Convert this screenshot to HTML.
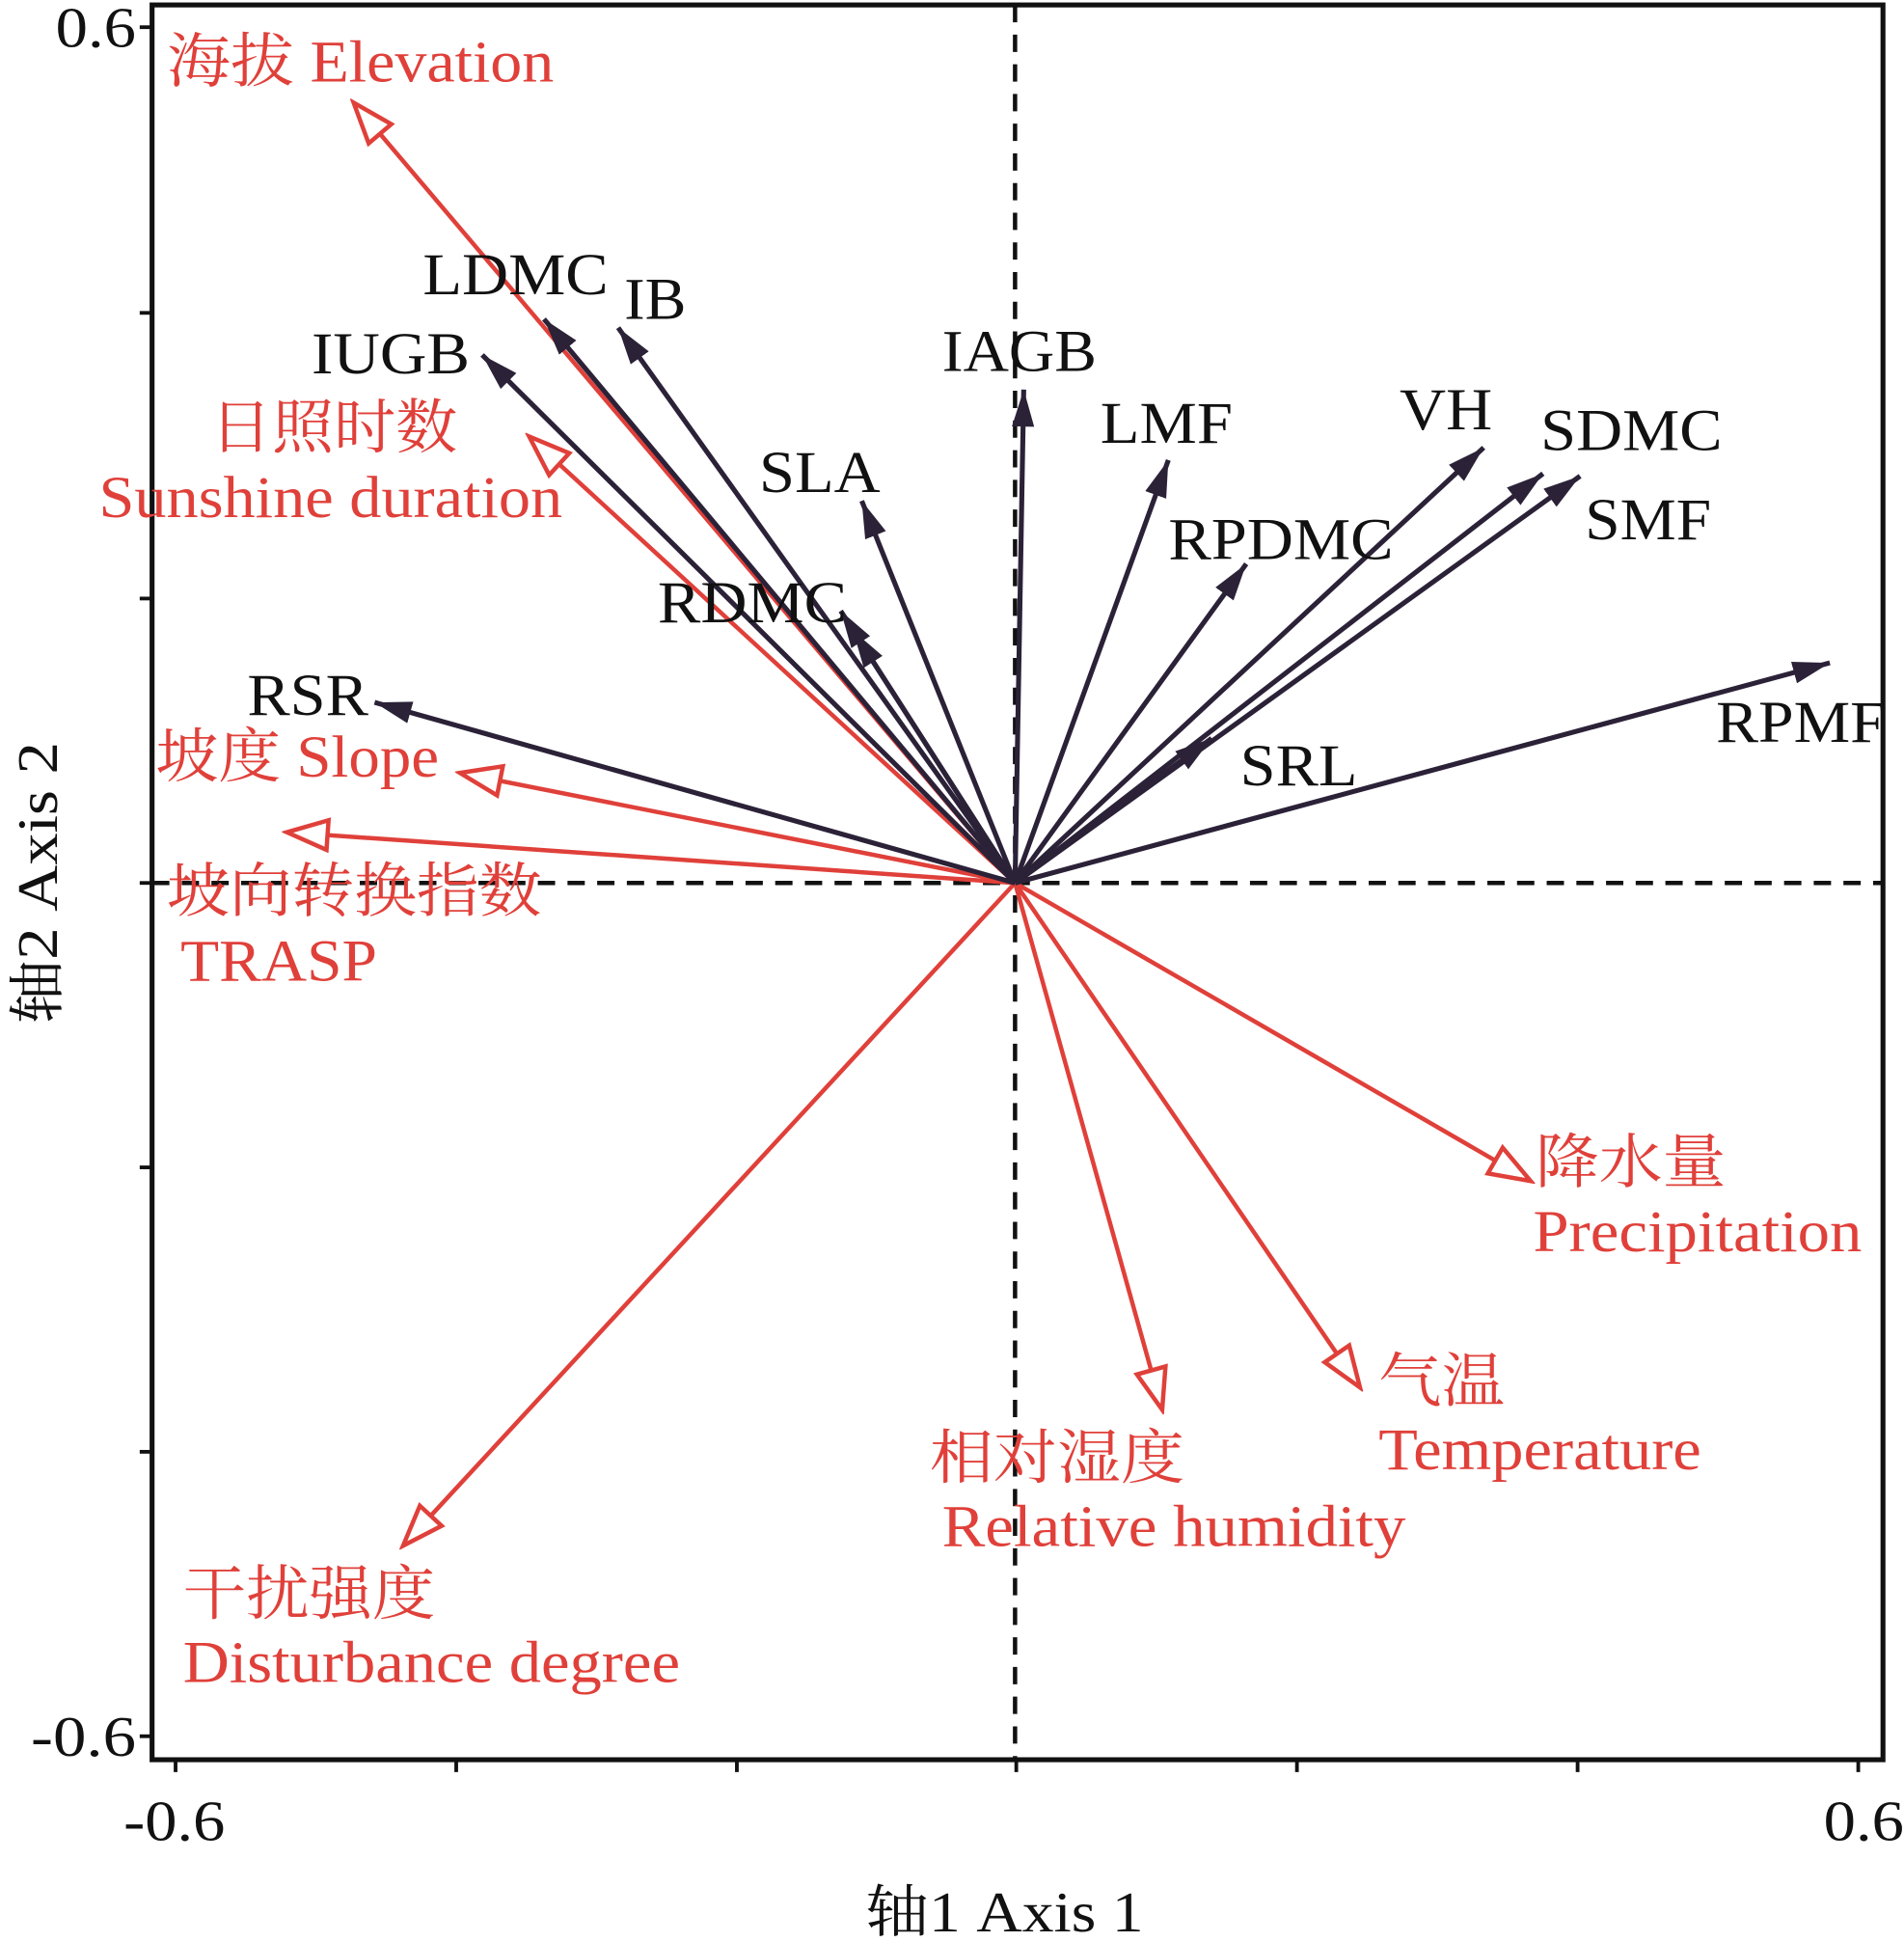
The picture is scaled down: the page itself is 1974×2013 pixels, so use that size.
<!DOCTYPE html>
<html><head><meta charset="utf-8"><style>
html,body{margin:0;padding:0;background:#fff;}
svg{display:block;}
text{font-family:"Liberation Serif","Noto Serif CJK SC","Noto Sans CJK SC",serif;}
</style></head><body>
<svg width="1974" height="2013" viewBox="0 0 1540 1570.4" preserveAspectRatio="none" xmlns="http://www.w3.org/2000/svg">
<defs>
<marker id="d" markerUnits="userSpaceOnUse" markerWidth="34" markerHeight="24" refX="30" refY="12" orient="auto">
<path d="M0,3 L30,12 L0,21 Z" fill="#2b2238"/>
</marker>
<marker id="r" markerUnits="userSpaceOnUse" markerWidth="40" markerHeight="32" refX="36" refY="16" orient="auto">
<path d="M3,4 L36,16 L3,28 Z" fill="#fff" stroke="#e0403a" stroke-width="3.5"/>
</marker>
</defs>
<rect x="123" y="4" width="1400" height="1419" fill="none" stroke="#111" stroke-width="4"/>
<g stroke="#111" stroke-width="3">
<line x1="113" y1="22" x2="123" y2="22"/><line x1="113" y1="253" x2="123" y2="253"/><line x1="113" y1="484" x2="123" y2="484"/><line x1="113" y1="714" x2="123" y2="714"/><line x1="113" y1="944" x2="123" y2="944"/><line x1="113" y1="1174" x2="123" y2="1174"/><line x1="113" y1="1404" x2="123" y2="1404"/>
<line x1="142" y1="1423" x2="142" y2="1433"/><line x1="369" y1="1423" x2="369" y2="1433"/><line x1="596" y1="1423" x2="596" y2="1433"/><line x1="822" y1="1423" x2="822" y2="1433"/><line x1="1049" y1="1423" x2="1049" y2="1433"/><line x1="1276" y1="1423" x2="1276" y2="1433"/><line x1="1503" y1="1423" x2="1503" y2="1433"/>
</g>
<g stroke="#111" stroke-width="3.5" stroke-dasharray="14,10">
<line x1="821" y1="4" x2="821" y2="1423"/>
<line x1="123" y1="714" x2="1523" y2="714"/>
</g>
<g font-size="46" fill="#111" lengthAdjust="spacingAndGlyphs">
<text x="45" y="38" textLength="65" lengthAdjust="spacingAndGlyphs">0.6</text>
<text x="25" y="1420" textLength="85" lengthAdjust="spacingAndGlyphs">-0.6</text>
<text x="100" y="1488" textLength="82" lengthAdjust="spacingAndGlyphs">-0.6</text>
<text x="1475" y="1488" textLength="65" lengthAdjust="spacingAndGlyphs">0.6</text>
<text x="700" y="1562" textLength="225" lengthAdjust="spacingAndGlyphs">轴1 Axis 1</text>
<text x="0" y="0" textLength="228" lengthAdjust="spacingAndGlyphs" transform="translate(46,828) rotate(-90)">轴2 Axis 2</text>
</g>
<g stroke="#e0403a" stroke-width="3.5" fill="none" marker-end="url(#r)">
<line x1="821" y1="714" x2="286" y2="83"/>
<line x1="821" y1="714" x2="428" y2="353"/>
<line x1="821" y1="714" x2="372" y2="625"/>
<line x1="821" y1="714" x2="232" y2="673"/>
<line x1="821" y1="714" x2="326" y2="1250"/>
<line x1="821" y1="714" x2="940" y2="1140"/>
<line x1="821" y1="714" x2="1100" y2="1122"/>
<line x1="821" y1="714" x2="1238" y2="955"/>
</g>
<g stroke="#2b2238" stroke-width="4" fill="none" marker-end="url(#d)">
<line x1="821" y1="714" x2="440" y2="258"/>
<line x1="821" y1="714" x2="500" y2="265"/>
<line x1="821" y1="714" x2="390" y2="287"/>
<line x1="821" y1="714" x2="828" y2="315"/>
<line x1="821" y1="714" x2="697" y2="405"/>
<line x1="821" y1="714" x2="680" y2="494"/>
<line x1="821" y1="714" x2="690" y2="510"/>
<line x1="821" y1="714" x2="303" y2="568"/>
<line x1="821" y1="714" x2="945" y2="372"/>
<line x1="821" y1="714" x2="1008" y2="456"/>
<line x1="821" y1="714" x2="1200" y2="362"/>
<line x1="821" y1="714" x2="1248" y2="383"/>
<line x1="821" y1="714" x2="1278" y2="385"/>
<line x1="821" y1="714" x2="980" y2="597"/>
<line x1="821" y1="714" x2="1480" y2="536"/>
</g>
<g font-size="48" fill="#111">
<text x="342" y="238" textLength="150" lengthAdjust="spacingAndGlyphs">LDMC</text>
<text x="505" y="258" textLength="50" lengthAdjust="spacingAndGlyphs">IB</text>
<text x="252" y="302" textLength="128" lengthAdjust="spacingAndGlyphs">IUGB</text>
<text x="762" y="300" textLength="125" lengthAdjust="spacingAndGlyphs">IAGB</text>
<text x="614" y="398" textLength="98" lengthAdjust="spacingAndGlyphs">SLA</text>
<text x="532" y="503" textLength="153" lengthAdjust="spacingAndGlyphs">RDMC</text>
<text x="200" y="578" textLength="98" lengthAdjust="spacingAndGlyphs">RSR</text>
<text x="890" y="358" textLength="107" lengthAdjust="spacingAndGlyphs">LMF</text>
<text x="945" y="452" textLength="182" lengthAdjust="spacingAndGlyphs">RPDMC</text>
<text x="1132" y="347" textLength="75" lengthAdjust="spacingAndGlyphs">VH</text>
<text x="1246" y="364" textLength="147" lengthAdjust="spacingAndGlyphs">SDMC</text>
<text x="1282" y="436" textLength="102" lengthAdjust="spacingAndGlyphs">SMF</text>
<text x="1003" y="635" textLength="95" lengthAdjust="spacingAndGlyphs">SRL</text>
<text x="1388" y="600" textLength="137" lengthAdjust="spacingAndGlyphs">RPMF</text>
</g>
<g font-size="48" fill="#e0403a">
<text x="135" y="66" textLength="313" lengthAdjust="spacingAndGlyphs">海拔 Elevation</text>
<text x="170" y="362" textLength="200" lengthAdjust="spacingAndGlyphs">日照时数</text>
<text x="80" y="418" textLength="375" lengthAdjust="spacingAndGlyphs">Sunshine duration</text>
<text x="126" y="628" textLength="229" lengthAdjust="spacingAndGlyphs">坡度 Slope</text>
<text x="135" y="737" textLength="303" lengthAdjust="spacingAndGlyphs">坡向转换指数</text>
<text x="146" y="793" textLength="159" lengthAdjust="spacingAndGlyphs">TRASP</text>
<text x="148" y="1305" textLength="204" lengthAdjust="spacingAndGlyphs">干扰强度</text>
<text x="148" y="1360" textLength="402" lengthAdjust="spacingAndGlyphs">Disturbance degree</text>
<text x="752" y="1195" textLength="206" lengthAdjust="spacingAndGlyphs">相对湿度</text>
<text x="762" y="1250" textLength="375" lengthAdjust="spacingAndGlyphs">Relative humidity</text>
<text x="1115" y="1133" textLength="102" lengthAdjust="spacingAndGlyphs">气温</text>
<text x="1115" y="1188" textLength="261" lengthAdjust="spacingAndGlyphs">Temperature</text>
<text x="1242" y="956" textLength="154" lengthAdjust="spacingAndGlyphs">降水量</text>
<text x="1240" y="1012" textLength="266" lengthAdjust="spacingAndGlyphs">Precipitation</text>
</g>
</svg>
</body></html>
